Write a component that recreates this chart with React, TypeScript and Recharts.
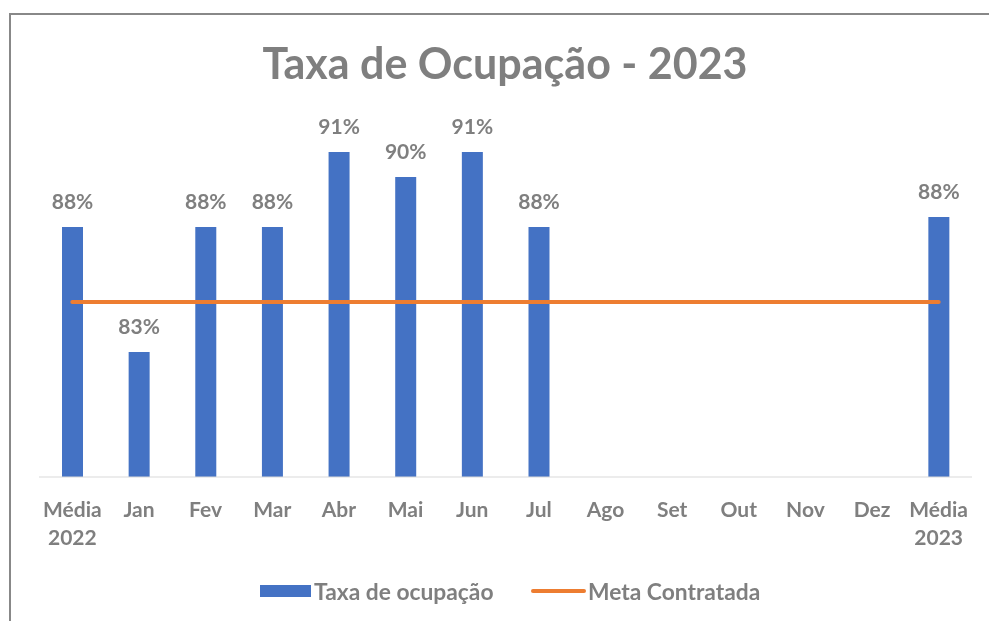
import { ComposedChart, Bar, Line, XAxis, YAxis, Legend, LabelList } from "recharts";

const categories = ["Média 2022", "Jan", "Fev", "Mar", "Abr", "Mai", "Jun", "Jul", "Ago", "Set", "Out", "Nov", "Dez", "Média 2023"];
const taxaOcupacao = [88, 83, 88, 88, 91, 90, 91, 88, null, null, null, null, null, 88.4];
const metaContratada = [85, 85, 85, 85, 85, 85, 85, 85, 85, 85, 85, 85, 85, 85];

const data = categories.map((name, i) => ({
  name,
  taxa: taxaOcupacao[i],
  meta: metaContratada[i],
}));

const FONT = "Lato, 'Open Sans', sans-serif";
const GRAY = "#7f7f7f";
const BLUE = "#4472C4";
const ORANGE = "#ED7D31";

function CategoryTick(props: any) {
  const { x, y, payload } = props;
  const lines = String(payload.value).split(" ");
  return (
    <text x={x} y={y} textAnchor="middle" fill={GRAY} fontFamily={FONT} fontSize={21} fontWeight={700}>
      {lines.map((l, i) => (
        <tspan key={i} x={x} dy={i === 0 ? 38 : 28}>{l}</tspan>
      ))}
    </text>
  );
}

function TopLabel(props: any) {
  const { x, y, width, value } = props;
  if (value == null) return null;
  return (
    <text x={x + width / 2} y={y - 18} textAnchor="middle" fill={GRAY} fontFamily={FONT} fontSize={21} fontWeight={700}>
      {Math.round(value)}%
    </text>
  );
}

function ChartLegend() {
  return (
    <svg width={933} height={40} style={{ display: "block" }}>
      <rect x={221} y={12} width={51} height={12} fill={BLUE} />
      <text x={275} y={27} fill={GRAY} fontFamily={FONT} fontSize={22.8} fontWeight={700}>Taxa de ocupação</text>
      <line x1={494} x2={545} y1={18} y2={18} stroke={ORANGE} strokeWidth={4} strokeLinecap="round" />
      <text x={549} y={27} fill={GRAY} fontFamily={FONT} fontSize={22.8} fontWeight={700}>Meta Contratada</text>
    </svg>
  );
}

export default function App() {
  return (
    <div style={{ position: "relative", width: 981, height: 605, overflow: "hidden", background: "#fff" }}>
      <div
        style={{
          position: "fixed", left: 9, top: 13, width: 1200, height: 1200,
          borderLeft: "2px solid #888", borderTop: "2px solid #888",
        }}
      />
      <svg width={981} height={100} style={{ position: "absolute", left: 0, top: 0 }}>
        <text x={497} y={71} textAnchor="middle" fill={GRAY} fontFamily={FONT} fontSize={43} fontWeight={700}>
          Taxa de Ocupação - 2023
        </text>
      </svg>
      <div style={{ position: "absolute", left: 0, top: 0 }}>
        <ComposedChart
          width={981}
          height={605}
          data={data}
          margin={{ top: 119, right: 17, bottom: 0, left: 31 }}
        >
          <XAxis
            dataKey="name"
            height={96}
            interval={0}
            tickLine={false}
            tickSize={0}
            axisLine={{ stroke: "#d9d9d9", strokeWidth: 1 }}
            tick={<CategoryTick />}
          />
          <YAxis hide domain={[78, 92]} type="number" />
          <Bar dataKey="taxa" name="Taxa de ocupação" fill={BLUE} barSize={21} isAnimationActive={false}>
            <LabelList dataKey="taxa" content={<TopLabel />} />
          </Bar>
          <Line
            dataKey="meta"
            name="Meta Contratada"
            type="linear"
            stroke={ORANGE}
            strokeWidth={4}
            strokeLinecap="round"
            dot={false}
            activeDot={false}
            isAnimationActive={false}
          />
          <Legend verticalAlign="bottom" content={<ChartLegend />} />
        </ComposedChart>
      </div>
    </div>
  );
}
